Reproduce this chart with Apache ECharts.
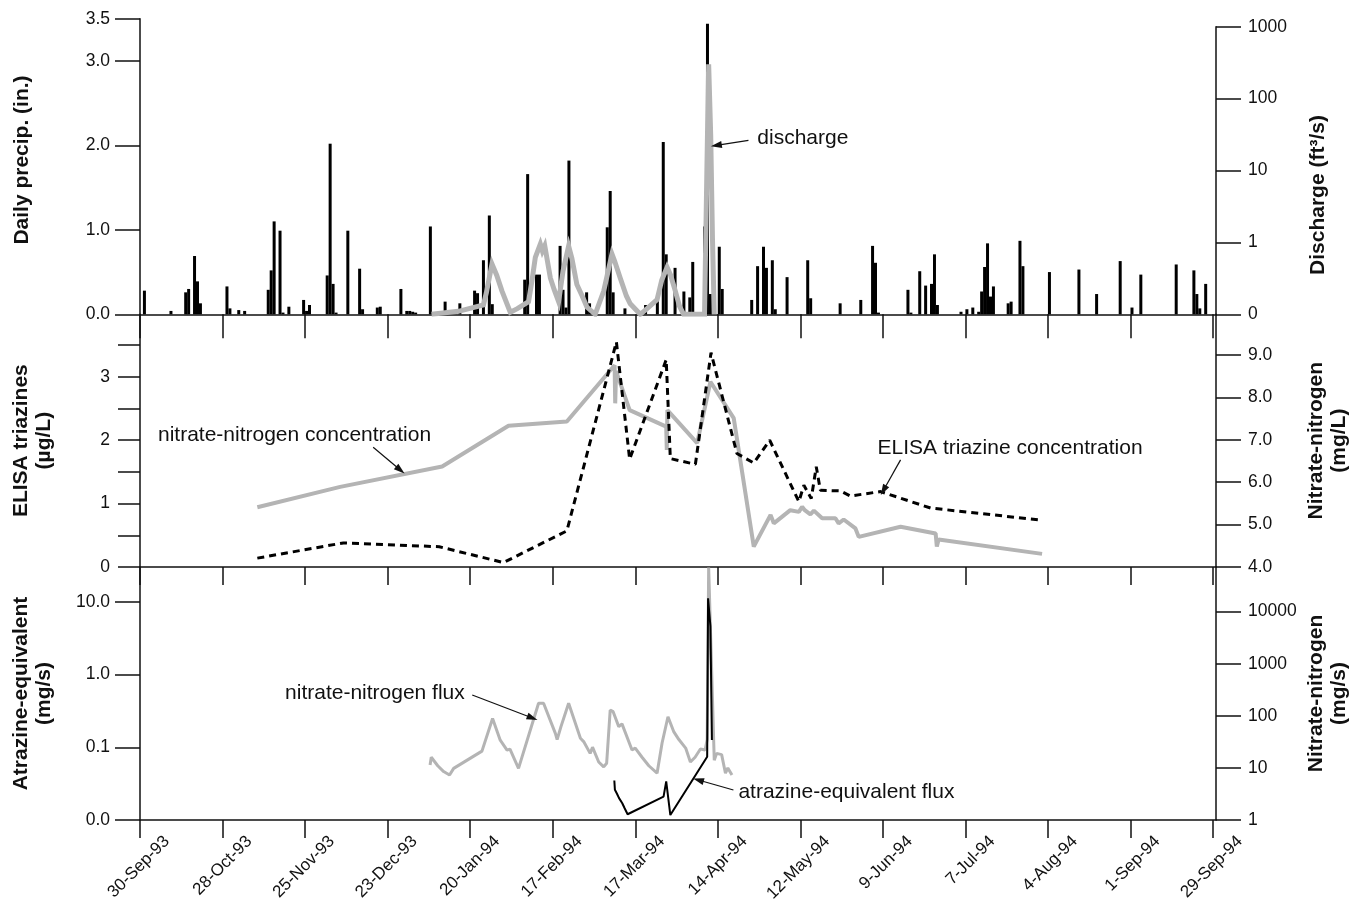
<!DOCTYPE html>
<html>
<head>
<meta charset="utf-8">
<script src="https://cdn.jsdelivr.net/npm/echarts@6/dist/echarts.min.js"></script>
<style>
  html, body { margin: 0; padding: 0; background: #fff; }
  #chart { width: 1361px; height: 902px; }
</style>
</head>
<body>
<div id="chart"></div>
<script>
// Time is counted in days from 30-Sep-93.
const tickDays = [0, 28, 56, 84, 112, 140, 168, 196, 224, 252, 280, 308, 336, 364];
const tickLabels = ['30-Sep-93', '28-Oct-93', '25-Nov-93', '23-Dec-93', '20-Jan-94', '17-Feb-94',
  '17-Mar-94', '14-Apr-94', '12-May-94', '9-Jun-94', '7-Jul-94', '4-Aug-94', '1-Sep-94', '29-Sep-94'];

// Daily precipitation (inches)
const precipDay = [1, 10, 15, 16, 18, 19, 20, 29, 30, 33, 35, 43, 44, 45, 47, 48, 50, 55, 56, 57,
  63, 64, 65, 66, 70, 74, 75, 80, 81, 88, 90, 91, 92, 93, 98, 103, 108, 113, 114, 116, 118, 119,
  130, 131, 134, 135, 142, 143, 144, 145, 151, 152, 158, 159, 160, 164, 171, 175, 177, 178, 181,
  184, 186, 187, 191, 192, 193, 196, 197, 207, 209, 211, 212, 214, 215, 219, 226, 227, 237, 244,
  248, 249, 250, 260, 261, 264, 266, 268, 269, 270, 278, 280, 282, 284, 285, 286, 287, 288, 289,
  294, 295, 298, 299, 308, 318, 324, 332, 336, 339, 351, 357, 358, 359, 361];
const precipIn = [0.28, 0.04, 0.26, 0.30, 0.69, 0.39, 0.13, 0.33, 0.07, 0.05, 0.04, 0.29, 0.52, 1.10, 0.99, 0.02, 0.09, 0.17, 0.04, 0.11,
  0.46, 2.02, 0.36, 0.02, 0.99, 0.54, 0.06, 0.08, 0.09, 0.30, 0.04, 0.04, 0.03, 0.02, 1.04, 0.15, 0.13, 0.28, 0.25, 0.64, 1.17, 0.12,
  0.41, 1.66, 0.47, 0.47, 0.81, 0.29, 0.08, 1.82, 0.26, 0.13, 1.03, 1.46, 0.26, 0.07, 0.11, 0.20, 2.04, 0.71, 0.55,
  0.27, 0.20, 0.62, 1.04, 3.44, 0.24, 0.80, 0.30, 0.17, 0.57, 0.80, 0.55, 0.64, 0.06, 0.44, 0.64, 0.19, 0.13, 0.17,
  0.81, 0.61, 0.02, 0.29, 0.02, 0.51, 0.34, 0.36, 0.71, 0.11, 0.03, 0.06, 0.08, 0.03, 0.27, 0.56, 0.84, 0.21, 0.33,
  0.13, 0.15, 0.87, 0.57, 0.50, 0.53, 0.24, 0.63, 0.08, 0.47, 0.59, 0.52, 0.24, 0.07, 0.36];

// Discharge (ft3/s)
const dischargeDay = [98.9, 108, 116.5, 117.5, 119.4, 121, 122.8, 125.6, 128, 131.8, 133, 134.1, 135.8, 136.5,
  137.3, 139.2, 140.5, 142, 143.5, 145.4, 146.5, 148.2, 150, 151.6, 154.4, 157.3, 160.1, 161, 162.9, 165, 166.3,
  169.7, 172, 175.4, 177, 178.8, 180, 181.6, 183, 184.4, 191.5, 192.3, 192.9, 193.6, 194.2, 194.8];
const dischargeCfs = [0, 0.01, 0.035, 0.1, 0.40, 0.25, 0.11, 0.007, 0.02, 0.05, 0.2, 0.52, 0.85, 0.66,
  0.8, 0.22, 0.12, 0.05, 0.3, 0.79, 0.5, 0.16, 0.08, 0.026, 0, 0.11, 0.59, 0.45, 0.22, 0.08, 0.04,
  0, 0.02, 0.06, 0.2, 0.35, 0.25, 0.11, 0.03, 0, 0, 10, 300, 30, 1, 0];

// Nitrate-nitrogen concentration (mg/L)
const nitrateConcDay = [39.8, 67.9, 102.5, 125, 144.8, 161.0, 161.2, 161.5, 166.1, 178.5, 178.7, 178.9, 189, 193.5,
  201.4, 208.2, 213.9, 215, 220.6, 223.5, 224.6, 225.5, 227.4, 228.6, 231.4, 235.9, 237, 238.7, 242.7, 243.8,
  258, 269.9, 270.3, 270.9, 306];
const nitrateConcMgL = [5.41, 5.89, 6.37, 7.33, 7.43, 8.76, 7.86, 8.62, 7.70, 7.31, 6.76, 7.70, 6.92, 8.37,
  7.51, 4.48, 5.23, 5.03, 5.34, 5.30, 5.42, 5.34, 5.24, 5.33, 5.15, 5.15, 5.03, 5.12, 4.91, 4.71,
  4.95, 4.79, 4.48, 4.65, 4.31];

// ELISA triazine concentration (ug/L)
const elisaDay = [39.8, 69, 101.5, 123.3, 144.8, 161.6, 166.1, 178.5, 179.9, 188.4, 193.7, 202.5, 208.2, 213.6,
  223.5, 225.2, 227.7, 229.4, 230.8, 237.6, 241, 251.2, 268.2, 305.5];
const elisaUgL = [0.14, 0.38, 0.32, 0.07, 0.57, 3.55, 1.70, 3.27, 1.71, 1.62, 3.38, 1.79, 1.64, 2.0,
  1.03, 1.29, 1.08, 1.58, 1.21, 1.20, 1.12, 1.19, 0.93, 0.74];

// Nitrate-nitrogen flux (mg/s)
const nitrateFluxDay = [98.4, 98.8, 101, 103, 105, 106.4, 116, 119.6, 122.2, 124.5, 125.5, 128.4, 129, 135.2, 136.9,
  140.9, 141.5, 142.8, 145.4, 149.4, 150.5, 152.7, 153.5, 155.6, 157.3, 158.3, 159.5, 160.5, 162.4, 163.5,
  166.9, 168, 170.3, 172.6, 175.4, 177.1, 179.1, 181.1, 182.8, 185.1, 186.7, 188.3, 190.1, 191.7, 192.4,
  192.9, 194.8, 195.6, 197.3, 198.6, 199.4, 200.8];
const nitrateFluxMgS = [11.4, 16, 11, 8.5, 7.3, 9.8, 21, 89, 34, 22, 23, 9.8, 9.5, 174, 174,
  46, 35, 62, 174, 37, 32, 19, 25, 13, 10.5, 12.3, 129, 120, 62, 70,
  22, 24, 16, 11, 7.9, 30, 96, 49, 35, 24, 13, 16, 23, 22, 35,
  70000, 14, 19, 18, 7.9, 10, 7.3];

// Atrazine-equivalent flux (mg/s)
const atrazineFluxDay = [160.9, 161.1, 161.8, 162.5, 163.6, 164.4, 165.4, 177.6, 178.5, 179.9, 192.4, 192.7, 193.5, 194];
const atrazineFluxMgS = [0.035, 0.026, 0.023, 0.020, 0.017, 0.0145, 0.012, 0.021, 0.034, 0.0117, 0.074, 11.2, 4.6, 0.126];

// Axis tick positions and their printed labels
const precipTicks = [0, 1, 2, 3, 3.5];
const precipTickText = ['0.0', '1.0', '2.0', '3.0', '3.5'];
const dischargeTicks = [0, 1, 2, 3, 4];            // log10(Q + 0.1) + 1
const dischargeTickText = ['0', '1', '10', '100', '1000'];
const elisaTicks = [0, 1, 2, 3];
const elisaTickText = ['0', '1', '2', '3'];
const elisaTickMarks = [0, 0.5, 1, 1.5, 2, 2.5, 3, 3.5];
const nitrateTicks = [4, 5, 6, 7, 8, 9];
const nitrateTickText = ['4.0', '5.0', '6.0', '7.0', '8.0', '9.0'];
const atrazineTicks = [-2, -1, 0, 1];              // log10(mg/s)
const atrazineTickText = ['0.0', '0.1', '1.0', '10.0'];
const fluxTicks = [0, 1, 2, 3, 4];                 // log10(mg/s)
const fluxTickText = ['1', '10', '100', '1000', '10000'];

const FONT = '"Liberation Sans", Arial, sans-serif';
const INK = '#111';
const GREY = '#b4b4b4';

const dischargeScale = q => Math.log10(q + 0.1) + 1;
const pairs = (xs, ys, f) => xs.map((x, i) => [x, f ? f(ys[i]) : ys[i]]);

function lookup(pos, txt) {
  return v => {
    const i = pos.findIndex(p => Math.abs(p - v) < 1e-6);
    return i < 0 ? '' : txt[i];
  };
}

function makeX(grid, o) {
  const ax = {
    type: 'value', gridIndex: grid, position: 'bottom', min: 0, max: 365,
    show: o.show !== false,
    axisLine: { show: true, onZero: false, lineStyle: { color: INK, width: 1.5 } },
    axisTick: { show: true, length: o.tickLen || 18, customValues: tickDays, lineStyle: { color: INK, width: 1.5 } },
    axisLabel: { show: false },
    splitLine: { show: false }
  };
  if (o.labels) {
    ax.axisLabel = {
      show: true, customValues: tickDays, formatter: lookup(tickDays, tickLabels),
      rotate: 45, margin: -8, align: 'right', verticalAlign: 'top', padding: [29, 0, 0, 0],
      lineHeight: 18, fontFamily: FONT, fontSize: 17, color: INK, hideOverlap: false
    };
  }
  return ax;
}

function makeY(o) {
  return {
    type: 'value', gridIndex: o.grid, position: o.side, min: o.min, max: o.max,
    name: o.name, nameLocation: 'middle', nameRotate: 90, nameGap: o.nameGap, nameMoveOverlap: false,
    nameTextStyle: { fontFamily: FONT, fontSize: 21, fontWeight: 'bold', color: INK, lineHeight: 23, padding: o.namePad || 0 },
    axisLine: { show: true, onZero: false, lineStyle: { color: INK, width: 1.5 } },
    axisTick: { show: true, length: o.tickLen || 25, customValues: o.tickMarks || o.ticks, lineStyle: { color: INK, width: 1.5 } },
    axisLabel: {
      show: true, customValues: o.ticks, formatter: lookup(o.ticks, o.labels), margin: o.margin,
      fontFamily: FONT, fontSize: 17.5, color: INK, hideOverlap: false
    },
    splitLine: { show: false }
  };
}

const arrowStyle = {
  silent: true, symbol: ['none', 'triangle'], symbolSize: [7, 11], animation: false,
  lineStyle: { color: INK, width: 1.2, type: 'solid' }, itemStyle: { color: INK },
  label: { show: false }, emphasis: { disabled: true }
};
const arrow = (from, to) => [{ coord: from }, { coord: to }];

const option = {
  animation: false,
  backgroundColor: '#fff',
  grid: [
    { left: 140, right: 145, top: 18.7, height: 295.6, outerBoundsMode: 'none' },
    { left: 140, right: 145, top: 26.7, height: 287.6, outerBoundsMode: 'none' },
    { left: 140, right: 145, top: 314.3, height: 252.7, outerBoundsMode: 'none' },
    { left: 140, right: 145, top: 567, height: 253, outerBoundsMode: 'none' }
  ],
  xAxis: [
    makeX(0, { tickLen: 24 }),
    makeX(1, { show: false }),
    makeX(2, { tickLen: 18 }),
    makeX(3, { tickLen: 18, labels: true })
  ],
  yAxis: [
    makeY({ grid: 0, side: 'left', min: 0, max: 3.5, ticks: precipTicks, labels: precipTickText, margin: 30,
      name: 'Daily precip. (in.)', nameGap: 106, namePad: [0, 0, 0, 13] }),
    makeY({ grid: 1, side: 'right', min: 0, max: 4, ticks: dischargeTicks, labels: dischargeTickText, margin: 32,
      name: 'Discharge (ft³/s)', nameGap: 91, namePad: [0, 49, 0, 0] }),
    makeY({ grid: 2, side: 'left', min: 0, max: 3.986, ticks: elisaTicks, labels: elisaTickText, tickMarks: elisaTickMarks,
      margin: 30, tickLen: 22, name: 'ELISA triazines\n(µg/L)', nameGap: 84 }),
    makeY({ grid: 2, side: 'right', min: 4, max: 9.96, ticks: nitrateTicks, labels: nitrateTickText, margin: 32,
      name: 'Nitrate-nitrogen\n(mg/L)', nameGap: 89 }),
    makeY({ grid: 3, side: 'left', min: -2, max: 1.48, ticks: atrazineTicks, labels: atrazineTickText, margin: 30,
      name: 'Atrazine-equivalent\n(mg/s)', nameGap: 84 }),
    makeY({ grid: 3, side: 'right', min: 0, max: 4.856, ticks: fluxTicks, labels: fluxTickText, margin: 32,
      name: 'Nitrate-nitrogen\n(mg/s)', nameGap: 89 })
  ],
  series: [
    {
      name: 'precipitation', type: 'bar', xAxisIndex: 0, yAxisIndex: 0, barWidth: 3, z: 2,
      itemStyle: { color: '#000' },
      data: precipDay.map((d, i) => [d + 0.5, precipIn[i]]),
      markLine: Object.assign({}, arrowStyle, { data: [arrow([206.4, 2.06], [195.5, 2.0])] })
    },
    {
      name: 'discharge', type: 'line', xAxisIndex: 1, yAxisIndex: 1, z: 3,
      showSymbol: false, symbol: 'none',
      lineStyle: { color: GREY, width: 5, join: 'miter' },
      data: pairs(dischargeDay, dischargeCfs, dischargeScale)
    },
    {
      name: 'nitrate-nitrogen concentration', type: 'line', xAxisIndex: 2, yAxisIndex: 3, z: 2,
      showSymbol: false, symbol: 'none',
      lineStyle: { color: GREY, width: 4 },
      data: pairs(nitrateConcDay, nitrateConcMgL)
    },
    {
      name: 'ELISA triazine concentration', type: 'line', xAxisIndex: 2, yAxisIndex: 2, z: 3,
      showSymbol: false, symbol: 'none',
      lineStyle: { color: '#000', width: 3, type: [7, 5] },
      data: pairs(elisaDay, elisaUgL),
      markLine: Object.assign({}, arrowStyle, {
        data: [arrow([79.1, 1.89], [88.3, 1.53]), arrow([258, 1.69], [252.2, 1.21])]
      })
    },
    {
      name: 'nitrate-nitrogen flux', type: 'line', xAxisIndex: 3, yAxisIndex: 5, z: 2,
      showSymbol: false, symbol: 'none',
      lineStyle: { color: GREY, width: 3 },
      data: pairs(nitrateFluxDay, nitrateFluxMgS, Math.log10)
    },
    {
      name: 'atrazine-equivalent flux', type: 'line', xAxisIndex: 3, yAxisIndex: 4, z: 3,
      showSymbol: false, symbol: 'none',
      lineStyle: { color: '#000', width: 2 },
      data: pairs(atrazineFluxDay, atrazineFluxMgS, Math.log10),
      markLine: Object.assign({}, arrowStyle, {
        data: [arrow([112.7, -0.28], [133.1, -0.597]), arrow([201.3, -1.587], [189.4, -1.45])]
      })
    }
  ]
};

const chart = echarts.init(document.getElementById('chart'), null, { renderer: 'canvas' });
chart.setOption(option);

// Callout texts, placed in the data units of the series they sit beside
const notes = [
  { text: 'discharge', series: 0, at: [209.4, 2.09] },
  { text: 'nitrate-nitrogen concentration', series: 3, at: [6.1, 2.08] },
  { text: 'ELISA triazine concentration', series: 3, at: [250.2, 1.88] },
  { text: 'nitrate-nitrogen flux', series: 5, at: [49.2, -0.253] },
  { text: 'atrazine-equivalent flux', series: 5, at: [203, -1.615] }
];
chart.setOption({
  graphic: notes.map(n => {
    const p = chart.convertToPixel({ seriesIndex: n.series }, n.at);
    return {
      type: 'text', x: p[0], y: p[1], silent: true, z: 10,
      style: { text: n.text, fontFamily: FONT, fontSize: 21, fill: INK, align: 'left', verticalAlign: 'middle' }
    };
  })
});
</script>
</body>
</html>
